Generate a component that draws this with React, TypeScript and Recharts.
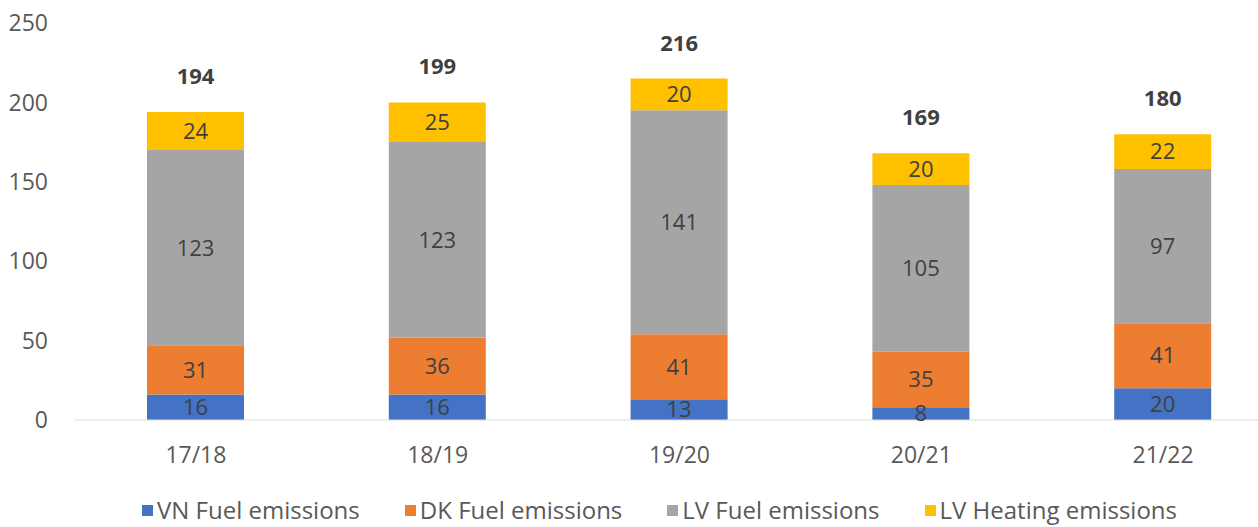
import React from 'react';
import { BarChart, Bar, XAxis, YAxis, Legend, LabelList } from 'recharts';

const categories = ['17/18', '18/19', '19/20', '20/21', '21/22'];
const vnFuel = [16, 16, 13, 8, 20];
const dkFuel = [31, 36, 41, 35, 41];
const lvFuel = [123, 123, 141, 105, 97];
const lvHeating = [24, 25, 20, 20, 22];
const totals = [194, 199, 216, 169, 180];
const yTicks = [0, 50, 100, 150, 200, 250];

const seriesNames = ['VN Fuel emissions', 'DK Fuel emissions', 'LV Fuel emissions', 'LV Heating emissions'];
const seriesKeys = ['vn', 'dk', 'lvf', 'lvh'];
const seriesColors = ['#4472C4', '#ED7D31', '#A5A5A5', '#FFC000'];

const data = categories.map((c, i) => ({
  cat: c,
  vn: vnFuel[i],
  dk: dkFuel[i],
  lvf: lvFuel[i],
  lvh: lvHeating[i],
  total: totals[i],
}));

const FONT = "'Open Sans', sans-serif";

const renderLegend = () => (
  <div style={{ display: 'flex', alignItems: 'center', fontFamily: FONT, fontSize: 24, lineHeight: '32px', height: 32, color: '#595959', whiteSpace: 'nowrap' }}>
    {seriesNames.map((n, i) => (
      <div key={n} style={{ display: 'flex', alignItems: 'center', marginRight: 45 }}>
        <span style={{ display: 'inline-block', width: 11, height: 11, background: seriesColors[i], marginRight: 4 }} />
        <span>{n}</span>
      </div>
    ))}
  </div>
);

const renderTotal = (props: any) => {
  const { x, y, width, value } = props;
  return (
    <text
      x={Number(x) + Number(width) / 2}
      y={Number(y) - 37}
      textAnchor="middle"
      dominantBaseline="central"
      fontFamily={FONT}
      fontSize={22}
      fontWeight="bold"
      fill="#404040"
    >
      {value}
    </text>
  );
};

export default function App() {
  return (
    <div style={{ position: 'absolute', left: 0, top: 0, width: 1258, height: 527, overflow: 'hidden', background: '#fff', fontFamily: FONT }}>
      <BarChart
        width={1300}
        height={527}
        data={data}
        margin={{ top: 23, right: 16, left: 0, bottom: 0 }}
        barCategoryGap="30%"
      >
        <XAxis
          dataKey="cat"
          height={107}
          tickLine={false}
          tickSize={0}
          tickMargin={27}
          axisLine={{ stroke: '#D9D9D9', strokeWidth: 1 }}
          tick={{ fill: '#595959', fontSize: 23, fontFamily: FONT }}
        />
        <YAxis
          width={75}
          domain={[0, 250]}
          ticks={yTicks}
          axisLine={false}
          tickLine={false}
          tickSize={0}
          tickMargin={27}
          tick={{ fill: '#595959', fontSize: 23, fontFamily: FONT }}
        />
        <Legend
          verticalAlign="middle"
          align="center"
          layout="horizontal"
          wrapperStyle={{ top: 494, left: 142, width: 1116, height: 32 }}
          content={renderLegend}
        />
        {seriesKeys.map((k, i) => (
          <Bar key={k} dataKey={k} name={seriesNames[i]} stackId="a" fill={seriesColors[i]} barSize={97} isAnimationActive={false}>
            <LabelList dataKey={k} position="center" fill="#404040" fontSize={22} fontFamily={FONT} />
            {k === 'lvh' ? <LabelList dataKey="total" content={renderTotal} /> : null}
          </Bar>
        ))}
      </BarChart>
    </div>
  );
}
